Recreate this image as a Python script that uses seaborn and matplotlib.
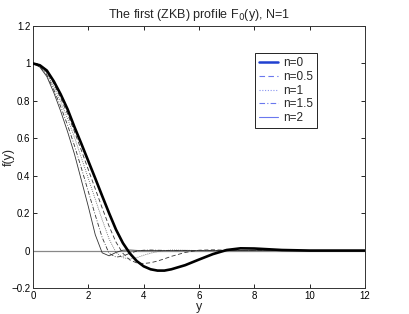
import matplotlib
matplotlib.use("Agg")
import matplotlib.pyplot as plt
from matplotlib.lines import Line2D
import seaborn as sns
import pandas as pd

x_vals = [0, 0.25, 0.5, 0.75, 1.0, 1.25, 1.5, 1.75, 2.0, 2.25, 2.5, 2.75, 3.0,
          3.25, 3.5, 3.75, 4.0, 4.25, 4.5, 4.75, 5.0, 5.5, 6.0, 6.5, 7.0, 7.5,
          8.0, 8.5, 9.0, 10.0, 11.0, 12.0]

f_n0 = [1.0, 0.99, 0.962, 0.905, 0.835, 0.755, 0.66, 0.57, 0.478, 0.386, 0.292,
        0.2, 0.112, 0.04, -0.015, -0.056, -0.084, -0.1, -0.107, -0.107, -0.1,
        -0.078, -0.048, -0.019, 0.003, 0.012, 0.011, 0.007, 0.003, 0.0, 0.0, 0.0]
f_n05 = [1.0, 0.988, 0.953, 0.893, 0.815, 0.73, 0.635, 0.535, 0.432, 0.33, 0.228,
         0.13, 0.045, -0.015, -0.05, -0.066, -0.069, -0.065, -0.056, -0.044,
         -0.031, -0.01, 0.002, 0.004, 0.002, 0.0, 0.0, 0.0, 0.0, 0.0, 0.0, 0.0]
f_n1 = [1.0, 0.986, 0.945, 0.877, 0.795, 0.705, 0.605, 0.495, 0.385, 0.275, 0.165,
        0.062, -0.01, -0.038, -0.045, -0.038, -0.025, -0.014, -0.006, 0.0,
        0.003, 0.002, 0.0, 0.0, 0.0, 0.0, 0.0, 0.0, 0.0, 0.0, 0.0, 0.0]
f_n15 = [1.0, 0.983, 0.938, 0.86, 0.77, 0.67, 0.56, 0.44, 0.315, 0.19, 0.07,
         -0.015, -0.035, -0.03, -0.014, -0.003, 0.002, 0.003, 0.002, 0.001, 0.0,
         0.0, 0.0, 0.0, 0.0, 0.0, 0.0, 0.0, 0.0, 0.0, 0.0, 0.0]
f_n2 = [1.0, 0.98, 0.93, 0.845, 0.745, 0.635, 0.515, 0.375, 0.235, 0.085, -0.012,
        -0.028, -0.01, 0.002, 0.003, 0.001, 0.0, 0.0, 0.0, 0.0, 0.0, 0.0, 0.0,
        0.0, 0.0, 0.0, 0.0, 0.0, 0.0, 0.0, 0.0, 0.0]

labels = ["n=0", "n=0.5", "n=1", "n=1.5", "n=2"]
series = [f_n0, f_n05, f_n1, f_n15, f_n2]
styles = ["-", (0, (5, 3)), (0, (1, 1.5)), (0, (5, 2, 1, 2)), "-"]
widths = [1.9, 0.6, 0.6, 0.6, 0.6]
colors = ["black", "#333333", "#555555", "#333333", "#333333"]

x_ticks = [0, 2, 4, 6, 8, 10, 12]
y_ticks = [-0.2, 0, 0.2, 0.4, 0.6, 0.8, 1.0, 1.2]

sns.set_theme(style="ticks")
plt.rcParams["font.family"] = ["Liberation Sans", "DejaVu Sans"]
plt.rcParams["xtick.direction"] = "in"
plt.rcParams["ytick.direction"] = "in"
plt.rcParams["xtick.top"] = True
plt.rcParams["ytick.right"] = True

fig = plt.figure(figsize=(4.09, 3.14), dpi=100)
ax = fig.add_axes([33 / 409, (314 - 288) / 314, (365 - 33) / 409, (288 - 26) / 314])

ax.axhline(0, color="#888888", lw=0.9, zorder=1)
for lab, vals, ls, lw, c in zip(labels, series, styles, widths, colors):
    df = pd.DataFrame({"y": x_vals, "f": vals})
    sns.lineplot(data=df, x="y", y="f", ax=ax, color=c, lw=lw, linestyle=ls,
                 zorder=3 if lab == "n=0" else 2)

ax.set_xlim(0, 12)
ax.set_ylim(-0.2, 1.2)
ax.set_xticks(x_ticks)
ax.set_yticks(y_ticks)
ax.set_xticklabels([f"{t:g}" for t in x_ticks], fontsize=7)
ax.set_yticklabels([f"{t:g}".replace("-", "\u2212") for t in y_ticks], fontsize=7)
ax.tick_params(length=3, width=0.6, pad=2, colors="black")
for s in ax.spines.values():
    s.set_linewidth(0.7)
    s.set_color("#333333")
ax.set_xlabel("y", fontsize=9, labelpad=0)
ax.set_ylabel("f(y)", fontsize=9)
ax.yaxis.set_label_coords(-0.055, 0.5)
ax.set_title("The first (ZKB) profile F$_0$(y), N=1", fontsize=9, pad=6)

leg_colors = ["#2040d0", "#6a78ee", "#8a96f0", "#6a78ee", "#6a78ee"]
leg_widths = [1.8, 0.8, 0.8, 0.8, 0.8]
handles = [Line2D([0], [0], color=c, lw=w, linestyle=ls)
           for c, w, ls in zip(leg_colors, leg_widths, styles)]
leg = ax.legend(handles, labels, loc="upper left", bbox_to_anchor=(0.669, 0.897),
                borderaxespad=0, fontsize=8.5, handlelength=1.6, handletextpad=0.4,
                labelspacing=0.15, fancybox=False, framealpha=1, borderpad=0.35)
leg.get_frame().set_edgecolor("black")
leg.get_frame().set_linewidth(0.6)

fig.savefig("out.png", dpi=100)
